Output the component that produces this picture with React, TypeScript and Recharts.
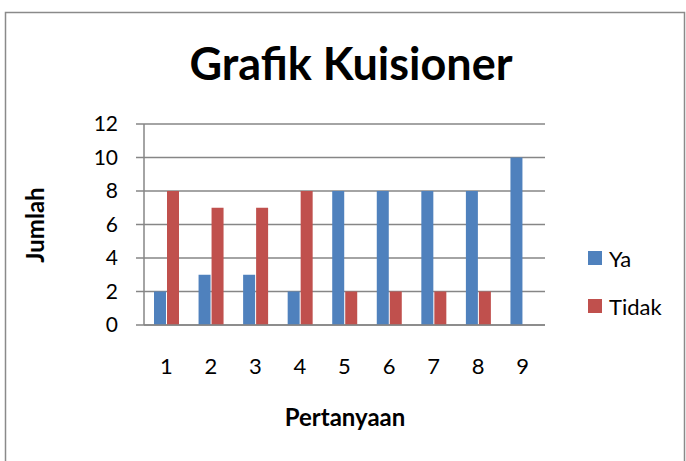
import React from 'react';
import { BarChart, Bar, XAxis, YAxis, CartesianGrid, Legend } from 'recharts';

const categories = ['1', '2', '3', '4', '5', '6', '7', '8', '9'];
const yaValues = [2, 3, 3, 2, 8, 8, 8, 8, 10];
const tidakValues = [8, 7, 7, 8, 2, 2, 2, 2, 0];
const yTicks = [0, 2, 4, 6, 8, 10, 12];
const seriesNames = ['Ya', 'Tidak'];
const titleText = 'Grafik Kuisioner';
const xLabel = 'Pertanyaan';
const yLabel = 'Jumlah';

const data = categories.map((c, i) => ({ name: c, Ya: yaValues[i], Tidak: tidakValues[i] }));

const FONT = 'Lato, "Open Sans", sans-serif';
const GRID = '#868686';

const renderLegend = (props: any) => {
  const payload = [...(props.payload || [])].sort(
    (a: any, b: any) => seriesNames.indexOf(a.value) - seriesNames.indexOf(b.value)
  );
  return (
    <div style={{ fontFamily: FONT, fontSize: 22, color: '#000' }}>
      {payload.map((p: any, i: number) => (
        <div key={i} style={{ display: 'flex', alignItems: 'center', height: 24, marginBottom: 24 }}>
          <span style={{ display: 'inline-block', width: 14, height: 14, background: p.color, marginRight: 7 }} />
          <span>{p.value}</span>
        </div>
      ))}
    </div>
  );
};

export default function App() {
  return (
    <div style={{ position: 'absolute', left: 0, top: 0, width: 686, height: 461, background: '#fff' }}>
      <BarChart
        width={686}
        height={461}
        data={data}
        margin={{ top: 124, right: 141, left: 84, bottom: 96 }}
        barGap={1}
      >
        <CartesianGrid vertical={false} stroke={GRID} strokeWidth={1.5} />
        <XAxis
          dataKey="name"
          height={40}
          tickLine={false}
          tickSize={0}
          tickMargin={33}
          axisLine={{ stroke: GRID, strokeWidth: 1.5 }}
          tick={{ fill: '#000', fontSize: 22, fontFamily: FONT }}
        />
        <YAxis
          width={60}
          domain={[0, 12]}
          ticks={yTicks}
          interval={0}
          tickSize={8}
          tickMargin={18}
          axisLine={{ stroke: GRID, strokeWidth: 1.5 }}
          tickLine={{ stroke: GRID, strokeWidth: 1.5 }}
          tick={{ fill: '#000', fontSize: 21, fontFamily: FONT }}
        />
        <Legend
          content={renderLegend}
          layout="horizontal"
          verticalAlign="middle"
          align="center"
          wrapperStyle={{ left: 588, top: 246, width: 95 }}
        />
        <Bar dataKey="Ya" fill="#4F81BD" barSize={12} isAnimationActive={false} />
        <Bar dataKey="Tidak" fill="#C0504D" barSize={12} isAnimationActive={false} />
      </BarChart>
      <svg
        width={686}
        height={461}
        style={{ position: 'absolute', left: 0, top: 0, pointerEvents: 'none' }}
      >
        <rect x={5.5} y={12.5} width={679} height={470} fill="none" stroke="#8a8a8a" strokeWidth={1.5} />
        <text x={351} y={80} textAnchor="middle" fontFamily={FONT} fontWeight="bold" fontSize={45} fill="#000">
          {titleText}
        </text>
        <text x={345} y={426} textAnchor="middle" fontFamily={FONT} fontWeight="bold" fontSize={24} fill="#000">
          {xLabel}
        </text>
        <text
          x={0}
          y={0}
          transform="translate(44 225) rotate(-90)"
          textAnchor="middle"
          fontFamily={FONT}
          fontWeight="bold"
          fontSize={24}
          fill="#000"
        >
          {yLabel}
        </text>
      </svg>
    </div>
  );
}
